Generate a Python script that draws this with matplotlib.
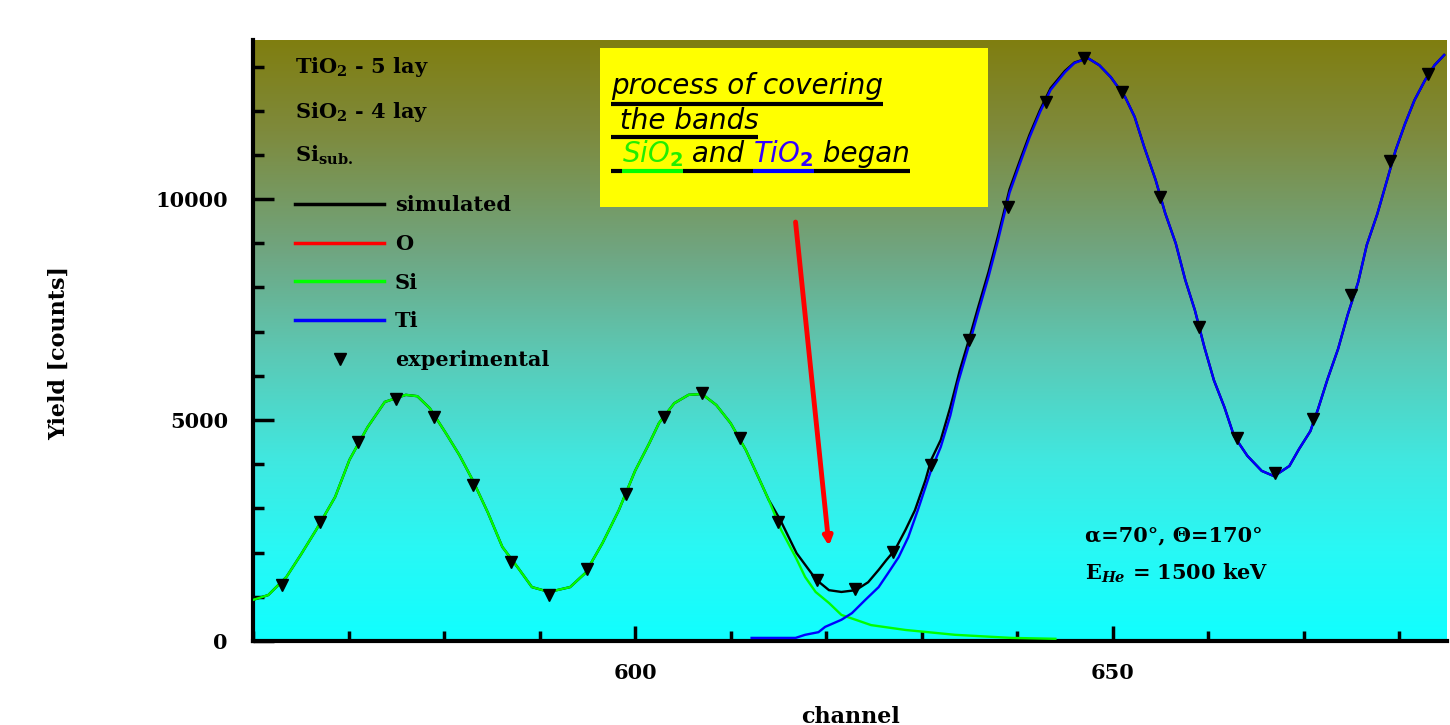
import numpy as np
import matplotlib
matplotlib.use("Agg")
import matplotlib.pyplot as plt
from matplotlib.lines import Line2D
from matplotlib.patches import Rectangle
from matplotlib.ticker import MultipleLocator

# simulated spectrum (sum)
sim_ch = [560, 561.6, 563.5, 565, 566.6, 568.6, 570.1, 572, 573.8, 576, 577.2, 578.5,
          580.2, 581.6, 583, 584.6, 586.1, 587.9, 589.2, 591, 593.2, 594.8, 596.6, 598.3,
          600, 601.5, 602.5, 604.1, 605.6, 607, 608.5, 610, 611.6, 612.9, 614, 615.2,
          616.9, 618.2, 619, 620.3, 621.6, 623.1, 624.4, 625.5, 626.3, 627.2, 628.3, 629.3,
          630.4, 631, 632, 633, 634, 634.9, 635.9, 637, 638, 639.2, 640.3, 641.3, 642.4,
          643.5, 645, 646, 647.4, 648.6, 649.8, 651.3, 652.3, 653.3, 654.5, 655.5, 656.6,
          657.6, 658.6, 659.6, 660.6, 661.7, 662.7, 664.1, 665.6, 666.9, 668.5, 669.5,
          670.7, 671.5, 672.5, 673.6, 674.6, 675.7, 676.6, 677.7, 678.7, 679.6, 680.6,
          681.6, 682.7, 683.7, 684.7]
sim_val = [930, 1040, 1450, 1950, 2510, 3260, 4100, 4840, 5410, 5570, 5540, 5270,
           4700, 4210, 3640, 2900, 2130, 1610, 1220, 1110, 1220, 1540, 2220, 2960,
           3850, 4480, 4930, 5380, 5570, 5590, 5340, 4930, 4320, 3710, 3190, 2740,
           1990, 1610, 1380, 1150, 1110, 1150, 1330, 1610, 1830, 2060, 2510, 2960,
           3640, 4100, 4550, 5290, 6130, 6780, 7540, 8350, 9170, 10220, 10880, 11460, 12020,
           12510, 12900, 13090, 13190, 13030, 12760, 12310, 11860, 11180, 10430, 9680, 9000,
           8170, 7490, 6650, 5900, 5290, 4640, 4190, 3850, 3730, 3960, 4340,
           4750, 5250, 5930, 6610, 7380, 8120, 8960, 9660, 10410, 11090, 11700,
           12240, 12690, 13030, 13260]

# Si contribution
si_ch = [560, 561.6, 563.5, 565, 566.6, 568.6, 570.1, 572, 573.8, 576, 577.2, 578.5,
         580.2, 581.6, 583, 584.6, 586.1, 587.9, 589.2, 591, 593.2, 594.8, 596.6, 598.3,
         600, 601.5, 602.5, 604.1, 605.6, 607, 608.5, 610, 611.6, 612.9, 614, 615.3,
         616.8, 617.8, 618.9, 620.3, 621.6, 623.1, 624.7, 628.3, 633.5, 639.4, 644]
si_val = [930, 1040, 1450, 1950, 2510, 3260, 4100, 4840, 5410, 5570, 5540, 5270,
          4700, 4210, 3640, 2900, 2130, 1610, 1220, 1110, 1220, 1540, 2220, 2960,
          3850, 4480, 4930, 5380, 5570, 5590, 5340, 4930, 4320, 3710, 3190, 2510,
          1900, 1450, 1110, 860, 590, 480, 360, 250, 140, 70, 50]

# Ti contribution
ti_ch = [612.2, 616.8, 617.8, 619.2, 619.9, 621.6, 622.7, 624.1, 625.5, 626.5, 627.6,
         628.6, 629.6, 630.4, 631, 632, 633, 633.8, 634.9, 635.9, 637, 638, 639.2, 640.3,
         641.3, 642.4, 643.5, 645, 646, 647.4, 648.6, 649.8, 651.3, 652.3, 653.3, 654.5,
         655.5, 656.6, 657.6, 658.6, 659.6, 660.6, 661.7, 662.7, 664.1, 665.6, 666.9,
         668.5, 669.5, 670.7, 671.5, 672.5, 673.6, 674.6, 675.7, 676.6, 677.7, 678.7,
         679.6, 680.6, 681.6, 682.7, 683.7, 684.7]
ti_val = [70, 70, 140, 200, 320, 480, 630, 930, 1220, 1540, 1900,
          2350, 2960, 3480, 3870, 4390, 5100, 5840, 6650, 7420, 8240, 9070, 10140, 10810,
          11400, 11970, 12470, 12870, 13080, 13190, 13030, 12760, 12310, 11860, 11180, 10430,
          9680, 9000, 8170, 7490, 6650, 5900, 5290, 4640, 4190, 3850, 3730,
          3960, 4340, 4750, 5250, 5930, 6610, 7380, 8120, 8960, 9660, 10410,
          11090, 11700, 12240, 12690, 13030, 13260]

# experimental points
exp_ch = [563, 567, 571, 575, 579, 583, 587, 591, 595, 599, 603, 607, 611, 615, 619, 623,
          627, 631, 635, 639, 643, 647, 651, 655, 659, 663, 667, 671, 675, 679, 683]
exp_val = [1260, 2690, 4500, 5470, 5070, 3530, 1790, 1040, 1630, 3330, 5070, 5610, 4590,
           2690, 1380, 1180, 2010, 3980, 6810, 9820, 12190, 13190, 12420, 10050, 7100,
           4600, 3800, 5020, 7830, 10860, 12830]

plt.rcParams['font.family'] = 'DejaVu Serif'
plt.rcParams['font.weight'] = 'bold'
plt.rcParams['mathtext.fontset'] = 'dejavuserif'

fig = plt.figure(figsize=(14.5, 7.25), dpi=100)
ax = fig.add_axes([253/1450, 84/725, 1194/1450, 601/725])

# olive -> cyan background
stops = [0, 0.15, 0.35, 0.52, 0.7, 0.85, 1.0]
cols = np.array([(128, 126, 16), (126, 138, 60), (112, 165, 128), (92, 200, 180),
                 (64, 232, 224), (40, 248, 245), (16, 255, 255)]) / 255.0
t = np.linspace(0, 1, 300)
grad = np.stack([np.interp(t, stops, cols[:, i]) for i in range(3)], axis=1)[:, None, :]
ax.imshow(grad, extent=[0, 1, 0, 1], transform=ax.transAxes, aspect='auto', zorder=0)

ax.plot(sim_ch, sim_val, color='black', lw=1.7, zorder=2)
ax.plot(si_ch, si_val, color='#00ff00', lw=1.7, zorder=3)
ax.plot(ti_ch, ti_val, color='#0000ff', lw=1.7, zorder=3)
ax.plot(exp_ch, exp_val, 'v', color='black', ms=8, zorder=4)

ax.set_xlim(560, 685)
ax.set_ylim(0, 13600)

for s in ['top', 'right']:
    ax.spines[s].set_visible(False)
for s in ['left', 'bottom']:
    ax.spines[s].set_linewidth(3)

ax.xaxis.set_major_locator(MultipleLocator(50))
ax.xaxis.set_minor_locator(MultipleLocator(10))
ax.yaxis.set_major_locator(MultipleLocator(5000))
ax.yaxis.set_minor_locator(MultipleLocator(1000))
ax.tick_params(which='both', direction='in', top=False, right=False, width=2.5, labelsize=15)
ax.tick_params(axis='y', which='major', length=15, pad=18)
ax.tick_params(axis='y', which='minor', length=8)
ax.tick_params(axis='x', which='major', length=11, pad=16)
ax.tick_params(axis='x', which='minor', length=7)

ax.set_ylabel('Yield [counts]', fontsize=16, fontweight='bold')
ax.yaxis.set_label_coords(-0.153, 0.48)
ax.set_xlabel('channel', fontsize=16, fontweight='bold')
ax.xaxis.set_label_coords(0.5, -0.108)

# sample description
ax.text(0.035, 0.945, 'TiO$_2$ - 5 lay', transform=ax.transAxes, fontsize=15, va='baseline')
ax.text(0.035, 0.870, 'SiO$_2$ - 4 lay', transform=ax.transAxes, fontsize=15, va='baseline')
ax.text(0.035, 0.797, 'Si$_{\\mathrm{sub.}}$', transform=ax.transAxes, fontsize=15, va='baseline')

handles = [Line2D([], [], color='black', lw=2.5),
           Line2D([], [], color='red', lw=2.5),
           Line2D([], [], color='#00ff00', lw=2.5),
           Line2D([], [], color='#0000ff', lw=2.5),
           Line2D([], [], color='black', marker='v', ls='none', ms=8)]
labels = ['simulated', 'O', 'Si', 'Ti', 'experimental']
ax.legend(handles, labels, loc='upper left', bbox_to_anchor=(0.035, 0.742), frameon=False,
          prop={'size': 15, 'weight': 'bold'}, handlelength=4.3, handletextpad=0.5,
          labelspacing=0.9, borderpad=0, borderaxespad=0, numpoints=1)

# yellow note
ax.add_patch(Rectangle((0.2906, 0.722), 0.325, 0.265, transform=ax.transAxes,
                       facecolor='#ffff00', edgecolor='none', zorder=5))
box_kw = dict(transform=ax.transAxes, fontsize=20, style='italic', family='DejaVu Sans',
              weight='normal', va='baseline', zorder=6, math_fontfamily='dejavusans')
x0 = 0.2995
l1 = ax.text(x0, 0.910, 'process of covering', **box_kw)
l2 = ax.text(x0, 0.852, ' the bands', **box_kw)
p1 = ax.text(0.309, 0.797, 'SiO$_2$', color='#22ee00', **box_kw)
pieces = [p1]
for txt, c in [(' and ', 'black'), ('TiO$_2$', '#3300ff'), (' began', 'black')]:
    kw = dict(box_kw)
    kw.pop('transform')
    p = ax.annotate(txt, xy=(1, 0.797), xycoords=(pieces[-1], 'axes fraction'), color=c, **kw)
    pieces.append(p)

fig.canvas.draw()
rend = fig.canvas.get_renderer()
inv = ax.transAxes.inverted()

def span(artist):
    bb = artist.get_window_extent(rend)
    a = inv.transform((bb.x0, bb.y0))[0]
    b = inv.transform((bb.x1, bb.y0))[0]
    return a, b

def underline(a, b, y, c):
    ax.plot([a, b], [y, y], transform=ax.transAxes, color=c, lw=3,
            solid_capstyle='butt', zorder=6)

a, b = span(l1)
underline(x0, b, 0.8935, 'black')
a, b = span(l2)
underline(x0, b, 0.8386, 'black')
a, b = span(p1)
underline(x0, a, 0.782, 'black')
for p, c in zip(pieces, ['#00ff00', 'black', '#0000ff', 'black']):
    a, b = span(p)
    underline(a, b, 0.782, c)

ax.annotate('', xy=(620.3, 2150), xytext=(616.8, 9480),
            arrowprops=dict(arrowstyle='-|>,head_length=0.5,head_width=0.25', color='red',
                            lw=3.5, shrinkA=0, shrinkB=0), zorder=6)

ax.text(0.697, 0.176, 'α=70°, Θ=170°', transform=ax.transAxes, va='center', fontsize=15)
ax.text(0.697, 0.113, 'E$_{He}$ = 1500 keV', transform=ax.transAxes, va='center', fontsize=15)

fig.savefig('out.png', dpi=100)
